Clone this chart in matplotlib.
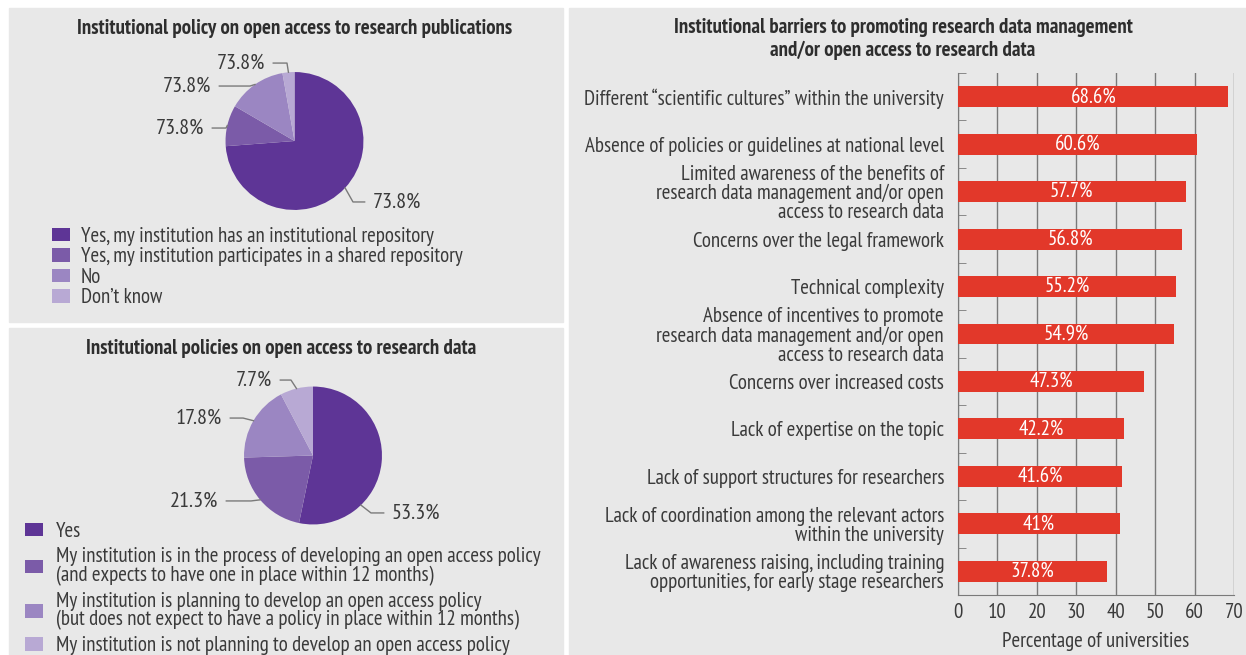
import numpy as np
import matplotlib
matplotlib.use("Agg")
import matplotlib.pyplot as plt
from matplotlib.patches import Rectangle

W, H = 1246, 655
plt.rcParams['font.family'] = ['PT Sans Narrow', 'Liberation Sans', 'DejaVu Sans']

# --- data ---
pub_labels = ["Yes, my institution has an institutional repository",
              "Yes, my institution participates in a shared repository",
              "No",
              "Don\u2019t know"]
pub_shares = [73.8, 9.6, 13.8, 2.8]
pub_tags = ["73.8%", "73.8%", "73.8%", "73.8%"]   # as printed in the report

data_labels = ["Yes",
               "My institution is in the process of developing an open access policy\n"
               "(and expects to have one in place within 12 months)",
               "My institution is planning to develop an open access policy\n"
               "(but does not expect to have a policy in place within 12 months)",
               "My institution is not planning to develop an open access policy"]
data_shares = [53.3, 21.3, 17.8, 7.7]

barriers = ["Different \u201cscientific cultures\u201d within the university",
            "Absence of policies or guidelines at national level",
            "Limited awareness of the benefits of\nresearch data management and/or open\naccess to research data",
            "Concerns over the legal framework",
            "Technical complexity",
            "Absence of incentives to promote\nresearch data management and/or open\naccess to research data",
            "Concerns over increased costs",
            "Lack of expertise on the topic",
            "Lack of support structures for researchers",
            "Lack of coordination among the relevant actors\nwithin the university",
            "Lack of awareness raising, including training\nopportunities, for early stage researchers"]
barrier_pct = [68.6, 60.6, 57.7, 56.8, 55.2, 54.9, 47.3, 42.2, 41.6, 41, 37.8]
x_ticks = [0, 10, 20, 30, 40, 50, 60, 70]

PURPLES = ['#5e3596', '#7b5ba8', '#9b86c2', '#b8a9d4']
RED = '#e2382a'
PANEL = '#e8e8e8'
TXT = '#3a3a3a'
LINE = '#7a7a7a'
FS = 15
TITLE_FS = 15


def px_box(x0, y0, x1, y1):
    """pixel box (from top-left) -> figure fraction rect"""
    return [x0 / W, 1 - y1 / H, (x1 - x0) / W, (y1 - y0) / H]


def pie_panel(fig, center, shares, tags, leaders):
    cx, cy = center
    ax = fig.add_axes(px_box(cx - 100, cy - 100, cx + 100, cy + 100))
    wedges, _ = ax.pie(shares, colors=PURPLES, startangle=90, counterclock=False,
                       radius=1, wedgeprops=dict(linewidth=0))
    ax.set_xlim(-1.45, 1.45)
    ax.set_ylim(-1.45, 1.45)
    ax.set_aspect('equal')
    ax.axis('off')
    # leader lines: wedge edge -> elbow -> horizontal run to the tag
    for w, tag, (ang, ex, ey, tx) in zip(wedges, tags, leaders):
        if ang is None:
            ang = (w.theta1 + w.theta2) / 2
        px, py = np.cos(np.radians(ang)), np.sin(np.radians(ang))
        side = 1 if tx > ex else -1
        ax.plot([px, ex, tx - side * 0.12], [py, ey, ey], color=LINE, lw=1,
                clip_on=False)
        ax.text(tx, ey, tag, ha='left' if side > 0 else 'right', va='center',
                fontsize=16, color=TXT)
    return ax, wedges


fig = plt.figure(figsize=(W / 100, H / 100), dpi=100)
fig.patch.set_facecolor('white')

# grey panels
for box in [(9, 8, 563, 322), (9, 328, 563, 655), (569, 8, 1246, 655)]:
    fig.add_artist(Rectangle((box[0] / W, 1 - box[3] / H), (box[2] - box[0]) / W,
                             (box[3] - box[1]) / H, transform=fig.transFigure,
                             color=PANEL, zorder=-5))

# --- top left: publications ---
fig.text(294.5 / W, 1 - 28 / H, "Institutional policy on open access to research publications",
         ha='center', va='center', fontsize=TITLE_FS, fontweight='bold', color='#2e2e2e')
pub_leaders = [(None, 0.848, -0.884, 1.137),
               (None, -0.993, 0.188, -1.312),
               (None, -0.645, 0.797, -1.21),
               (None, -0.109, 1.13, -0.428)]
ax1, w1 = pie_panel(fig, (294.5, 141), pub_shares, pub_tags, pub_leaders)
ax1.legend(w1, pub_labels, loc='upper left', bbox_to_anchor=(52 / W, 1 - 227 / H),
           bbox_transform=fig.transFigure, frameon=False, fontsize=FS,
           handlelength=0.88, handleheight=0.6, handletextpad=0.5,
           labelspacing=0.07, borderpad=0, borderaxespad=0, labelcolor=TXT)

# --- bottom left: research data ---
fig.text(281 / W, 1 - 348 / H, "Institutional policies on open access to research data",
         ha='center', va='center', fontsize=TITLE_FS, fontweight='bold', color='#2e2e2e')
data_tags = [f"{v}%" for v in data_shares]
data_leaders = [(-46, 0.841, -0.833, 1.145),
                (None, -0.899, -0.659, -1.377),
                (None, -1.014, 0.543, -1.319),
                (None, -0.319, 1.094, -0.594)]
ax2, w2 = pie_panel(fig, (313, 455.5), data_shares, data_tags, data_leaders)
leg2 = ax2.legend(w2, data_labels, loc='upper left', bbox_to_anchor=(25 / W, 1 - 522 / H),
                  bbox_transform=fig.transFigure, frameon=False, fontsize=FS,
                  handlelength=0.88, handleheight=0.6, handletextpad=0.6,
                  labelspacing=0.3, borderpad=0, borderaxespad=0, labelcolor=TXT)
for t in leg2.get_texts():
    t.set_linespacing(0.95)

# --- right: barriers ---
fig.text(903 / W, 1 - 39 / H,
         "Institutional barriers to promoting research data management\n"
         "and/or open access to research data",
         ha='center', va='center', fontsize=TITLE_FS, fontweight='bold', color='#2e2e2e',
         linespacing=1.25)

ax3 = fig.add_axes(px_box(958, 73, 1234, 595))
ax3.set_facecolor('none')
ypos = np.arange(len(barriers))
ax3.barh(ypos, barrier_pct, height=0.44, color=RED, zorder=3)
for y, v in zip(ypos, barrier_pct):
    ax3.text(v / 2, y, f"{v:g}%", ha='center', va='center', color='white',
             fontsize=FS, zorder=4)
ax3.set_xlim(0, 70)
ax3.set_ylim(len(barriers) - 0.5, -0.5)
ax3.set_xticks(x_ticks)
ax3.set_yticks(ypos)
ax3.set_yticklabels(barriers, fontsize=FS, color=TXT, linespacing=1.0)
ax3.set_yticks(np.arange(len(barriers) + 1) - 0.5, minor=True)
ax3.tick_params(axis='y', which='major', length=0, pad=10)
ax3.tick_params(axis='y', which='minor', direction='in', length=6, color=LINE)
ax3.tick_params(axis='x', length=0, pad=6, labelsize=FS, labelcolor=TXT)
ax3.grid(axis='x', color=LINE, lw=1, zorder=0)
ax3.set_axisbelow(True)
for s in ['top', 'right']:
    ax3.spines[s].set_visible(False)
for s in ['left', 'bottom']:
    ax3.spines[s].set_color(LINE)
ax3.set_xlabel("Percentage of universities", fontsize=FS, color=TXT, labelpad=7)

fig.savefig("out.png", dpi=100)
